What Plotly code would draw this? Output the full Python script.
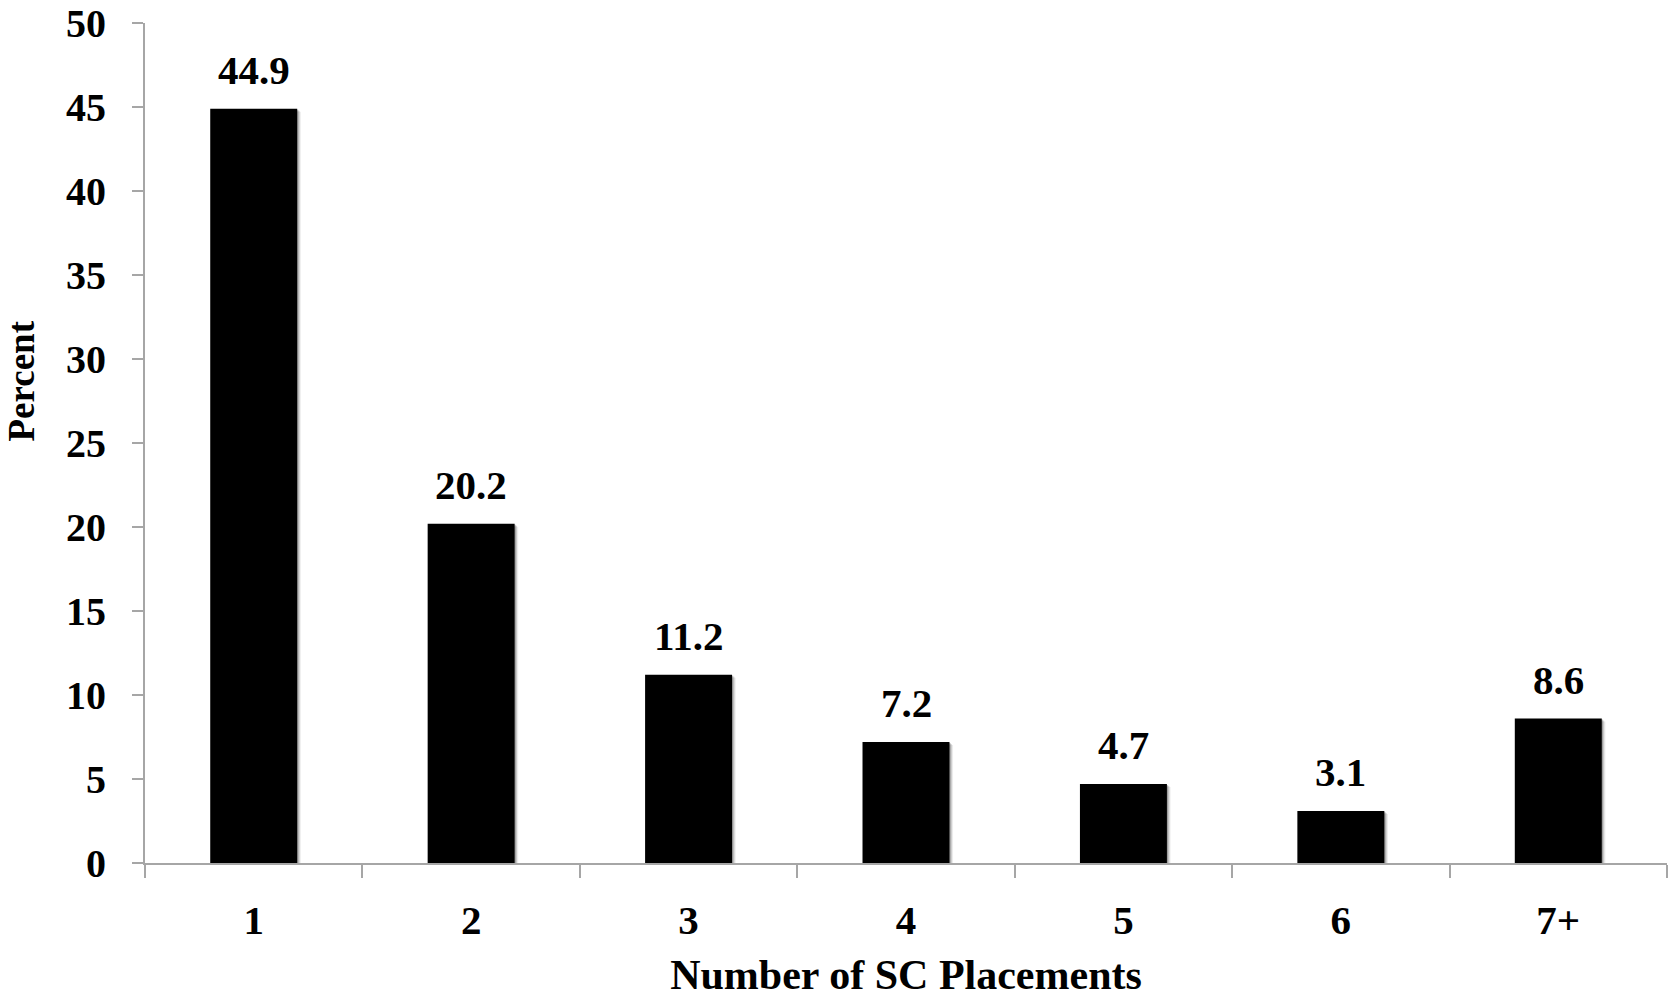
import plotly.graph_objects as go

# Share of cases by number of SC placements
categories = ["1", "2", "3", "4", "5", "6", "7+"]
percent = [44.9, 20.2, 11.2, 7.2, 4.7, 3.1, 8.6]
y_ticks = [0, 5, 10, 15, 20, 25, 30, 35, 40, 45, 50]

FONT = "Liberation Serif"
AXIS_GREY = "#a6a6a6"
BAR_W = 0.4

fig = go.Figure()

# soft drop shadow to the lower right of each bar
for k, alpha in [(1, 0.22), (2, 0.14), (3, 0.08)]:
    fig.add_trace(go.Bar(
        x=categories,
        y=[v - 0.06 * k for v in percent],
        width=BAR_W,
        offset=-BAR_W / 2 + 0.0055 * k,
        marker=dict(color=f"rgba(0,0,0,{alpha})", line=dict(width=0)),
        hoverinfo="skip",
        showlegend=False,
    ))

fig.add_trace(go.Bar(
    x=categories,
    y=percent,
    width=BAR_W,
    offset=-BAR_W / 2,
    marker=dict(color="black", line=dict(width=0)),
    showlegend=False,
))

# value labels above bars (category index positions)
for i, v in enumerate(percent):
    fig.add_annotation(
        x=i, y=v, text=f"{v:.1f}", showarrow=False,
        yanchor="bottom", yshift=14,
        font=dict(family=FONT, size=41, color="black", weight="bold"),
    )

# y-axis title, placed a little above the plot's vertical centre
fig.add_annotation(
    xref="paper", yref="paper", x=-0.081, y=0.574,
    text="Percent", textangle=-90, showarrow=False,
    xanchor="center", yanchor="middle",
    font=dict(family=FONT, size=37, color="black", weight="bold"),
)

fig.update_layout(
    width=1669, height=998,
    margin=dict(l=145, r=2, t=23, b=135, autoexpand=False),
    paper_bgcolor="white", plot_bgcolor="white",
    barmode="overlay",
    font=dict(family=FONT, color="black"),
    xaxis=dict(
        type="category", automargin=False,
        showline=True, linecolor=AXIS_GREY, linewidth=2,
        ticks="outside", tickson="boundaries", ticklen=13, tickwidth=2, tickcolor=AXIS_GREY,
        tickfont=dict(family=FONT, size=41, color="black", weight="bold"),
        ticklabelstandoff=20,
        showgrid=False, zeroline=False,
        title=dict(text="Number of SC Placements", standoff=20,
                   font=dict(family=FONT, size=42, color="black", weight="bold")),
    ),
    yaxis=dict(
        range=[0, 50.001], tickvals=y_ticks, automargin=False,
        showline=True, linecolor=AXIS_GREY, linewidth=2,
        ticks="outside", ticklen=11, tickwidth=2, tickcolor=AXIS_GREY,
        tickfont=dict(family=FONT, size=40, color="black", weight="bold"),
        ticklabelstandoff=18,
        ticklabeloverflow="allow",
        showgrid=False, zeroline=False,
    ),
)

fig.write_html("out.html")
